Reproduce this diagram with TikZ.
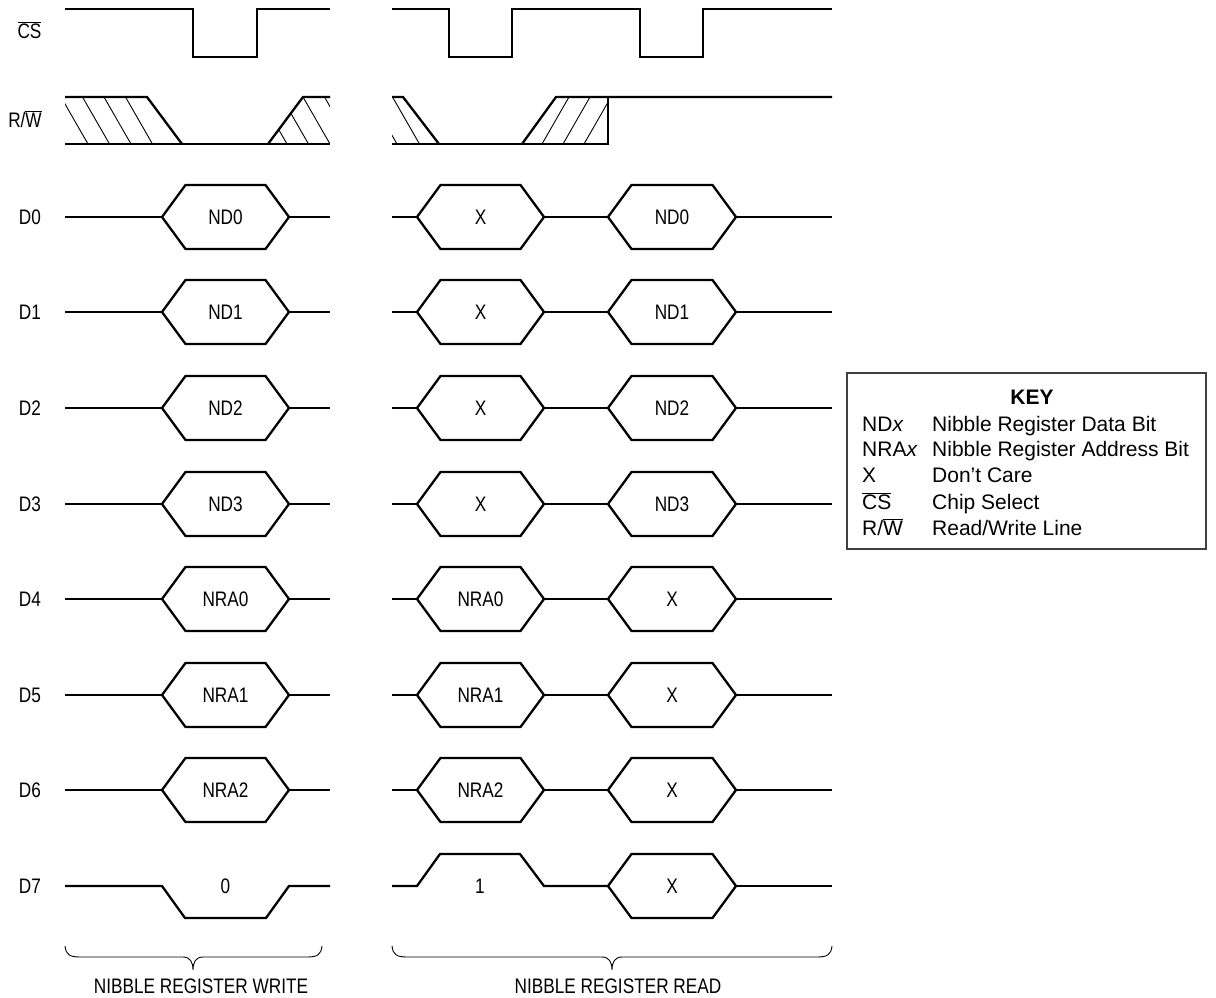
\documentclass[tikz,border=0pt]{standalone}
\usepackage{fontspec}
\setmainfont{Liberation Sans}
\newfontfamily\narrowfont[FakeStretch=0.82]{Liberation Sans}
\newcommand{\ovl}[1]{$\overline{\hbox{#1}}$}
\newcommand{\hexb}[5]{%
  \draw[sig] (#1,#3) -- (#1+23.5,#3-32) -- (#2-23.5,#3-32) -- (#2,#3) -- (#2-23.5,#3+32) -- (#1+23.5,#3+32) -- cycle;
  \node[lab] (#4) at ({(#1+#2)/2},#3) {#5};}
\newcommand{\leftrow}[4]{%
  \node[lab] (lbl#1) at (30,#2) {D#1};
  \draw[sig] (65,#2) -- (162,#2);
  \draw[sig] (289,#2) -- (330,#2);
  \hexb{162}{289}{#2}{w#1}{#3}}
\newcommand{\rightrow}[4]{%
  \draw[sig] (392,#2) -- (417,#2);
  \draw[sig] (544,#2) -- (608,#2);
  \draw[sig] (736,#2) -- (832,#2);
  \hexb{417}{544}{#2}{ra#1}{#3}
  \hexb{608}{736}{#2}{rb#1}{#4}}
\begin{document}
\begin{tikzpicture}[x=1pt,y=-1pt,
  sig/.style={line width=2.3pt},
  hatch/.style={line width=0.9pt},
  lab/.style={font=\narrowfont\fontsize{21}{25}\selectfont, inner sep=0pt},
  keyt/.style={font=\fontsize{21}{25}\selectfont, inner sep=0pt, anchor=base west},
  brace/.style={line width=0.9pt}]
\useasboundingbox (0,0) rectangle (1216,998);

% CS
\node[lab, anchor=base] (cslbl) at (29.5,38.5) {\ovl{CS}};
\draw[sig] (65,9) -- (193,9) -- (193,57) -- (257,57) -- (257,9) -- (330,9);
\draw[sig] (392,9) -- (449,9) -- (449,57) -- (512,57) -- (512,9) -- (640,9) -- (640,57) -- (703,57) -- (703,9) -- (832,9);

% R/W
\node[lab, anchor=base] (rwlbl) at (25,127) {R/\ovl{W}};
\begin{scope}
  \clip (65,97) -- (147,97) -- (182,144) -- (65,144) -- cycle;
  \foreach \b in {88,109.5,131,152.5} \draw[hatch] (\b,144) -- ++(-27,-47);
\end{scope}
\begin{scope}
  \clip (268,144) -- (303,97) -- (330,97) -- (330,144) -- cycle;
  \foreach \b in {287,308.5,330,351.5} \draw[hatch] (\b,144) -- ++(-27,-47);
\end{scope}
\draw[sig] (65,97) -- (147,97) -- (182,144);
\draw[sig] (65,144) -- (330,144);
\draw[sig] (268,144) -- (303,97) -- (330,97);

\begin{scope}
  \clip (392,97) -- (403,97) -- (439,144) -- (392,144) -- cycle;
  \foreach \b in {397,419.5} \draw[hatch] (\b,144) -- ++(-27,-47);
\end{scope}
\begin{scope}
  \clip (522,144) -- (556,97) -- (608,97) -- (608,144) -- cycle;
  \foreach \b in {542,563,584} \draw[hatch] (\b,144) -- ++(27,-47);
\end{scope}
\draw[sig] (392,97) -- (403,97) -- (439,144);
\draw[sig] (392,144) -- (608,144) -- (608,97);
\draw[sig] (522,144) -- (556,97) -- (832,97);

% data rows
\leftrow{0}{217}{ND0}{}
\leftrow{1}{312}{ND1}{}
\leftrow{2}{408}{ND2}{}
\leftrow{3}{504}{ND3}{}
\leftrow{4}{599}{NRA0}{}
\leftrow{5}{695}{NRA1}{}
\leftrow{6}{790}{NRA2}{}
\rightrow{0}{217}{X}{ND0}
\rightrow{1}{312}{X}{ND1}
\rightrow{2}{408}{X}{ND2}
\rightrow{3}{504}{X}{ND3}
\rightrow{4}{599}{NRA0}{X}
\rightrow{5}{695}{NRA1}{X}
\rightrow{6}{790}{NRA2}{X}

% D7
\node[lab] (lbl7) at (30,886) {D7};
\draw[sig] (65,886) -- (162,886) -- (185,918) -- (266,918) -- (289,886) -- (330,886);
\node[lab] (w7) at (225.5,886) {0};
\draw[sig] (392,886) -- (417,886) -- (440,854) -- (520,854) -- (544,886) -- (608,886);
\node[lab] (ra7) at (480,886) {1};
\draw[sig] (736,886) -- (832,886);
\hexb{608}{736}{886}{rb7}{X}

% braces
\draw[brace] (65,946) .. controls (66,955) and (70,957) .. (80,957) -- (183,957)
  .. controls (190,957) and (193,962) .. (193,970)
  .. controls (193,962) and (196,957) .. (203,957) -- (307,957)
  .. controls (317,957) and (321,955) .. (322,946);
\draw[brace] (392,946) .. controls (393,955) and (397,957) .. (407,957) -- (602,957)
  .. controls (609,957) and (612,962) .. (612,970)
  .. controls (612,962) and (615,957) .. (622,957) -- (817,957)
  .. controls (827,957) and (831,955) .. (832,946);
\node[lab] (wtitle) at (201,986.5) {NIBBLE REGISTER WRITE};
\node[lab] (rtitle) at (618,986.5) {NIBBLE REGISTER READ};

% key
\draw[line width=1.2pt, black!75] (847,373) rectangle (1206,549);
\node[font=\bfseries\fontsize{21}{25}\selectfont, inner sep=0pt, anchor=base] (keyhead) at (1032,404) {KEY};
\node[keyt] (k1a) at (862,431) {ND\textit{x}};
\node[keyt] (k1b) at (932,431) {Nibble Register Data Bit};
\node[keyt] (k2a) at (862,456.7) {NRA\textit{x}};
\node[keyt] (k2b) at (932,456.7) {Nibble Register Address Bit};
\node[keyt] (k3a) at (862,482.5) {X};
\node[keyt] (k3b) at (932,482.5) {Don’t Care};
\node[keyt] (k4a) at (862,509) {\ovl{CS}};
\node[keyt] (k4b) at (932,509) {Chip Select};
\node[keyt] (k5a) at (862,535) {R/\ovl{W}};
\node[keyt] (k5b) at (932,535) {Read/Write Line};
\end{tikzpicture}
\end{document}
